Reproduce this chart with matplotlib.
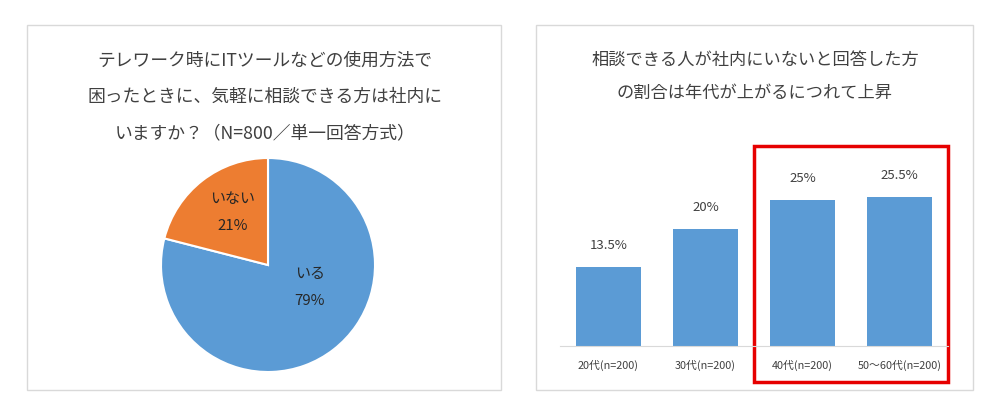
import matplotlib
matplotlib.use("Agg")
import matplotlib.pyplot as plt
from matplotlib.patches import Rectangle

plt.rcParams['font.family'] = ['Noto Sans CJK JP', 'DejaVu Sans']

# left chart data
pie_labels = ['いる', 'いない']
pie_values = [79, 21]
pie_colors = ['#5B9BD5', '#ED7D31']
pie_title = 'テレワーク時にITツールなどの使用方法で\n困ったときに、気軽に相談できる方は社内に\nいますか？（N=800／単一回答方式）'

# right chart data
bar_cats = ['20代(n=200)', '30代(n=200)', '40代(n=200)', '50〜60代(n=200)']
bar_values = [13.5, 20, 25, 25.5]
bar_labels = ['13.5%', '20%', '25%', '25.5%']
bar_title = '相談できる人が社内にいないと回答した方\nの割合は年代が上がるにつれて上昇'

W, H = 1000, 412
fig = plt.figure(figsize=(W / 100, H / 100), dpi=100)


def px_axes(x0, y0, x1, y1):
    # pixel box (top-left origin) -> figure axes
    return fig.add_axes([x0 / W, 1 - y1 / H, (x1 - x0) / W, (y1 - y0) / H])


# panel frames
for x0, y0, x1, y1 in [(27, 25, 501, 390), (536, 25, 973, 390)]:
    fig.patches.append(Rectangle((x0 / W, 1 - y1 / H), (x1 - x0) / W, (y1 - y0) / H,
                                 transform=fig.transFigure, fill=False,
                                 edgecolor='#d9d9d9', linewidth=1))

# titles
fig.text(265 / W, 1 - 97 / H, pie_title, ha='center', va='center', fontsize=12.8,
         color='#404040', linespacing=2.3)
fig.text(755 / W, 1 - 76.5 / H, bar_title, ha='center', va='center', fontsize=12.4,
         color='#404040', linespacing=2.1)

# pie
ax1 = px_axes(161, 158, 375, 372)
ax1.pie(pie_values, colors=pie_colors, startangle=90, counterclock=False,
        wedgeprops=dict(edgecolor='white', linewidth=1.5))
ax1.set_xlim(-1, 1)
ax1.set_ylim(-1, 1)
ax1.set_aspect('equal')
label_pos = [(0.39, -0.21), (-0.33, 0.49)]
for (lx, ly), name, v in zip(label_pos, pie_labels, pie_values):
    ax1.text(lx, ly, f'{name}\n\n{v}%', ha='center', va='center', fontsize=10.8,
             color='#262626', linespacing=0.95)

# bars
ax2 = px_axes(560, 141, 948, 346)
x = range(len(bar_cats))
ax2.bar(x, bar_values, width=0.66, color='#5B9BD5')
ax2.set_xlim(-0.5, len(bar_cats) - 0.5)
ax2.set_ylim(0, 35)
for xi, v, lab in zip(x, bar_values, bar_labels):
    ax2.text(xi, v + 2.5, lab, ha='center', va='bottom', fontsize=9.5, color='#404040')
ax2.set_xticks(list(x))
ax2.set_xticklabels(bar_cats, fontsize=7.8, color='#404040')
ax2.tick_params(axis='x', length=0, pad=10)
ax2.set_yticks([])
for s in ['top', 'right', 'left']:
    ax2.spines[s].set_visible(False)
ax2.spines['bottom'].set_color('#d9d9d9')
ax2.patch.set_alpha(0)

# highlight box around the last two groups
ax2.add_patch(Rectangle((1.5, -6.15), 2.0, 40.3, fill=False, edgecolor='#e60000',
                        linewidth=2.5, clip_on=False))

fig.savefig('out.png', dpi=100)
